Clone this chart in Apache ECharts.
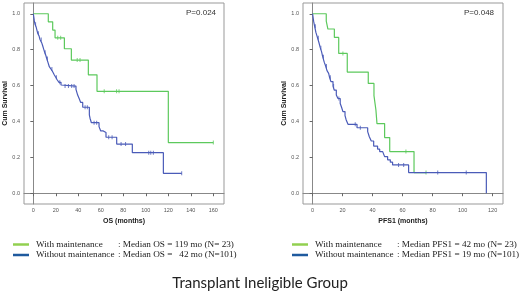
<!DOCTYPE html>
<html><head><meta charset="utf-8">
<script src="https://cdn.jsdelivr.net/npm/echarts@6/dist/echarts.min.js"></script>
<style>html,body{margin:0;padding:0;background:#fff}#c{width:520px;height:297px}</style>
</head><body><div id="c"></div>
<script>
// ---- Overall survival (left) ----
const osGreenT = [0, 13.3, 17.2, 19.3, 27.6, 33.8, 48.9, 56.6, 120, 160];
const osGreenS = [1, 0.955, 0.909, 0.866, 0.805, 0.742, 0.660, 0.568, 0.282, 0.282];
const osGreenCens = [21.7, 24.3, 39, 41.5, 63, 74, 76.2, 160];

const osBlueT = [0, 0.9, 1.5, 2.4, 3.9, 5.0, 5.9, 7.4, 8.3, 9.2, 10.1, 11.0, 11.9, 13.0, 14.2, 15.7, 17.2, 18.7, 19.9, 21.3, 22.8, 24.6, 25.5, 37.9, 39.4, 40.9, 42.1, 43.9, 49.8, 50.4, 51.6, 58.4, 59.9, 62.2, 64.6, 74.1, 88, 115.6, 131.9];
const osBlueS = [1, 0.960, 0.941, 0.928, 0.891, 0.878, 0.857, 0.839, 0.822, 0.803, 0.785, 0.770, 0.751, 0.729, 0.705, 0.692, 0.677, 0.659, 0.646, 0.631, 0.618, 0.603, 0.597, 0.579, 0.547, 0.525, 0.506, 0.479, 0.436, 0.418, 0.393, 0.371, 0.347, 0.338, 0.312, 0.274, 0.226, 0.111, 0.111];
const osBlueCens = [2, 4.5, 7, 10.5, 12.5, 16.5, 20.5, 23.5, 28.2, 31.2, 34.1, 36.2, 46, 48, 54, 56.3, 67, 70, 78, 82, 102.6, 104.4, 106.7, 131.9];

// ---- PFS1 (right) ----
const pfsGreenT = [0, 9.1, 10.2, 14.5, 17.4, 23.1, 37.1, 40.9, 42.2, 42.9, 48, 51.4, 67.6, 75.6];
const pfsGreenS = [1, 0.959, 0.915, 0.868, 0.779, 0.675, 0.612, 0.544, 0.464, 0.388, 0.310, 0.232, 0.115, 0.115];
const pfsGreenCens = [20.2, 62.2, 75.6];

const pfsBlueT = [0, 0.67, 1.33, 2.2, 3.3, 4.2, 5.1, 6.0, 6.7, 7.8, 8.7, 9.6, 10.7, 11.3, 12.2, 13.6, 14.4, 15.8, 16.9, 18.4, 19.3, 20.2, 21.6, 22.4, 23.6, 29.6, 36.7, 37.8, 39.1, 40.7, 43.3, 44.7, 46.7, 48, 50, 51.8, 53.3, 64, 115.8];
const pfsBlueS = [1, 0.959, 0.931, 0.896, 0.866, 0.840, 0.811, 0.788, 0.761, 0.729, 0.709, 0.683, 0.668, 0.646, 0.622, 0.597, 0.575, 0.547, 0.528, 0.500, 0.479, 0.455, 0.432, 0.408, 0.384, 0.365, 0.343, 0.315, 0.291, 0.263, 0.246, 0.232, 0.222, 0.204, 0.186, 0.173, 0.158, 0.115, 0.0];
const pfsBlueCens = [1.8, 3.8, 5.5, 7.2, 9.2, 11.8, 14.0, 17.5, 28.4, 31.8, 57.3, 60.7, 83.4, 102.4];

const osTicks = [0, 20, 40, 60, 80, 100, 120, 140, 160];
const pfsTicks = [0, 20, 40, 60, 80, 100, 120];
const yTicks = [0, 0.2, 0.4, 0.6, 0.8, 1.0];

const seriesNames = ['With maintenance', 'Without maintenance'];
const osLegendText = [': Median OS = 119 mo (N= 23)', ': Median OS =   42 mo (N=101)'];
const pfsLegendText = [': Median PFS1 = 42 mo (N= 23)', ': Median PFS1 = 19 mo (N=101)'];
const pValues = ['P=0.024', 'P=0.048'];
const xTitles = ['OS (months)', 'PFS1 (months)'];
const yTitle = 'Cum Survival';
const mainTitle = 'Transplant Ineligible Group';

const GREEN = '#5cc95c', BLUE = '#4a5bb8';
const LG_GREEN = '#92d050', LG_BLUE = '#1f5a9e';

function pairs(T, S) { return T.map((t, i) => [t, S[i]]); }
function survAt(T, S, t) { let v = S[0]; for (let i = 0; i < T.length; i++) { if (T[i] <= t) v = S[i]; } return v; }
function cens(T, S, C) { return C.map(t => [t, survAt(T, S, t)]); }

function xAxis(gi, min, max, ticks, title) {
  return {
    type: 'value', gridIndex: gi, min: min, max: max,
    splitLine: { show: false },
    axisLine: { show: true, lineStyle: { color: '#888', width: 1 } },
    axisTick: { show: true, length: 3, customValues: ticks, lineStyle: { color: '#666' } },
    axisLabel: { customValues: ticks, fontSize: 5.5, color: '#555', margin: 3, fontFamily: 'Liberation Sans' },
    name: title, nameLocation: 'middle', nameGap: 14,
    nameTextStyle: { fontSize: 7, fontWeight: 'bold', color: '#222', fontFamily: 'Liberation Sans' }
  };
}
function yAxis(gi) {
  return {
    type: 'value', gridIndex: gi, min: -0.06, max: 1.06,
    splitLine: { show: false },
    axisLine: { show: true, lineStyle: { color: '#888', width: 1 } },
    axisTick: { show: true, length: 3, customValues: yTicks, lineStyle: { color: '#666' } },
    axisLabel: { customValues: yTicks, fontSize: 5.5, color: '#555', margin: 4, fontFamily: 'Liberation Sans',
      formatter: v => v.toFixed(1) },
    name: yTitle, nameLocation: 'middle', nameGap: 15, nameRotate: 90,
    nameTextStyle: { fontSize: 7, fontWeight: 'bold', color: '#222', fontFamily: 'Liberation Sans' }
  };
}
function stepSeries(name, gi, T, S, color) {
  return { name: name, type: 'line', step: 'end', xAxisIndex: gi, yAxisIndex: gi,
    data: pairs(T, S), showSymbol: false, symbol: 'none', silent: true,
    lineStyle: { color: color, width: 1.2 }, itemStyle: { color: color } };
}
function censSeries(gi, T, S, C, color) {
  return { type: 'scatter', xAxisIndex: gi, yAxisIndex: gi, data: cens(T, S, C),
    symbol: 'rect', symbolSize: [1, 4], silent: true, itemStyle: { color: color } };
}
function legend(left, texts) {
  return {
    orient: 'vertical', left: left, top: 240, padding: 0, itemGap: 1.5, itemWidth: 16, itemHeight: 2.5,
    icon: 'rect', selectedMode: false,
    data: [
      { name: seriesNames[0], itemStyle: { color: LG_GREEN } },
      { name: seriesNames[1], itemStyle: { color: LG_BLUE } }
    ],
    formatter: n => '{a|' + n + '}{b|' + texts[seriesNames.indexOf(n)] + '}',
    textStyle: { fontFamily: 'Liberation Serif', fontSize: 9.2, color: '#222', padding: [0, 0, 0, 2],
      rich: { a: { width: 82, fontFamily: 'Liberation Serif', fontSize: 9.2, color: '#222' },
              b: { fontFamily: 'Liberation Serif', fontSize: 9.2, color: '#222' } } }
  };
}

const chart = echarts.init(document.getElementById('c'), null, { renderer: 'canvas' });
chart.setOption({
  animation: false,
  backgroundColor: '#fff',
  title: { text: mainTitle, left: 'center', top: 271,
    textStyle: { fontSize: 15, fontWeight: 'normal', color: '#222', fontFamily: 'Lato' } },
  grid: [
    { left: 24, top: 3, width: 200, height: 201, show: true, borderColor: '#999', borderWidth: 1, outerBoundsMode: 'none' },
    { left: 303, top: 3, width: 200, height: 201, show: true, borderColor: '#999', borderWidth: 1, outerBoundsMode: 'none' }
  ],
  xAxis: [ xAxis(0, -8.3, 169.5, osTicks, xTitles[0]), xAxis(1, -6.4, 126.9, pfsTicks, xTitles[1]) ],
  yAxis: [ yAxis(0), yAxis(1) ],
  legend: [ legend(13, osLegendText), legend(292, pfsLegendText) ],
  graphic: [
    { type: 'text', left: 186, top: 9, style: { text: pValues[0], fontSize: 8, fill: '#333', fontFamily: 'Liberation Sans' } },
    { type: 'text', left: 464, top: 9, style: { text: pValues[1], fontSize: 8, fill: '#333', fontFamily: 'Liberation Sans' } }
  ],
  series: [
    stepSeries(seriesNames[0], 0, osGreenT, osGreenS, GREEN),
    stepSeries(seriesNames[1], 0, osBlueT, osBlueS, BLUE),
    censSeries(0, osGreenT, osGreenS, osGreenCens, GREEN),
    censSeries(0, osBlueT, osBlueS, osBlueCens, BLUE),
    stepSeries(seriesNames[0], 1, pfsGreenT, pfsGreenS, GREEN),
    stepSeries(seriesNames[1], 1, pfsBlueT, pfsBlueS, BLUE),
    censSeries(1, pfsGreenT, pfsGreenS, pfsGreenCens, GREEN),
    censSeries(1, pfsBlueT, pfsBlueS, pfsBlueCens, BLUE)
  ]
});
</script></body></html>
